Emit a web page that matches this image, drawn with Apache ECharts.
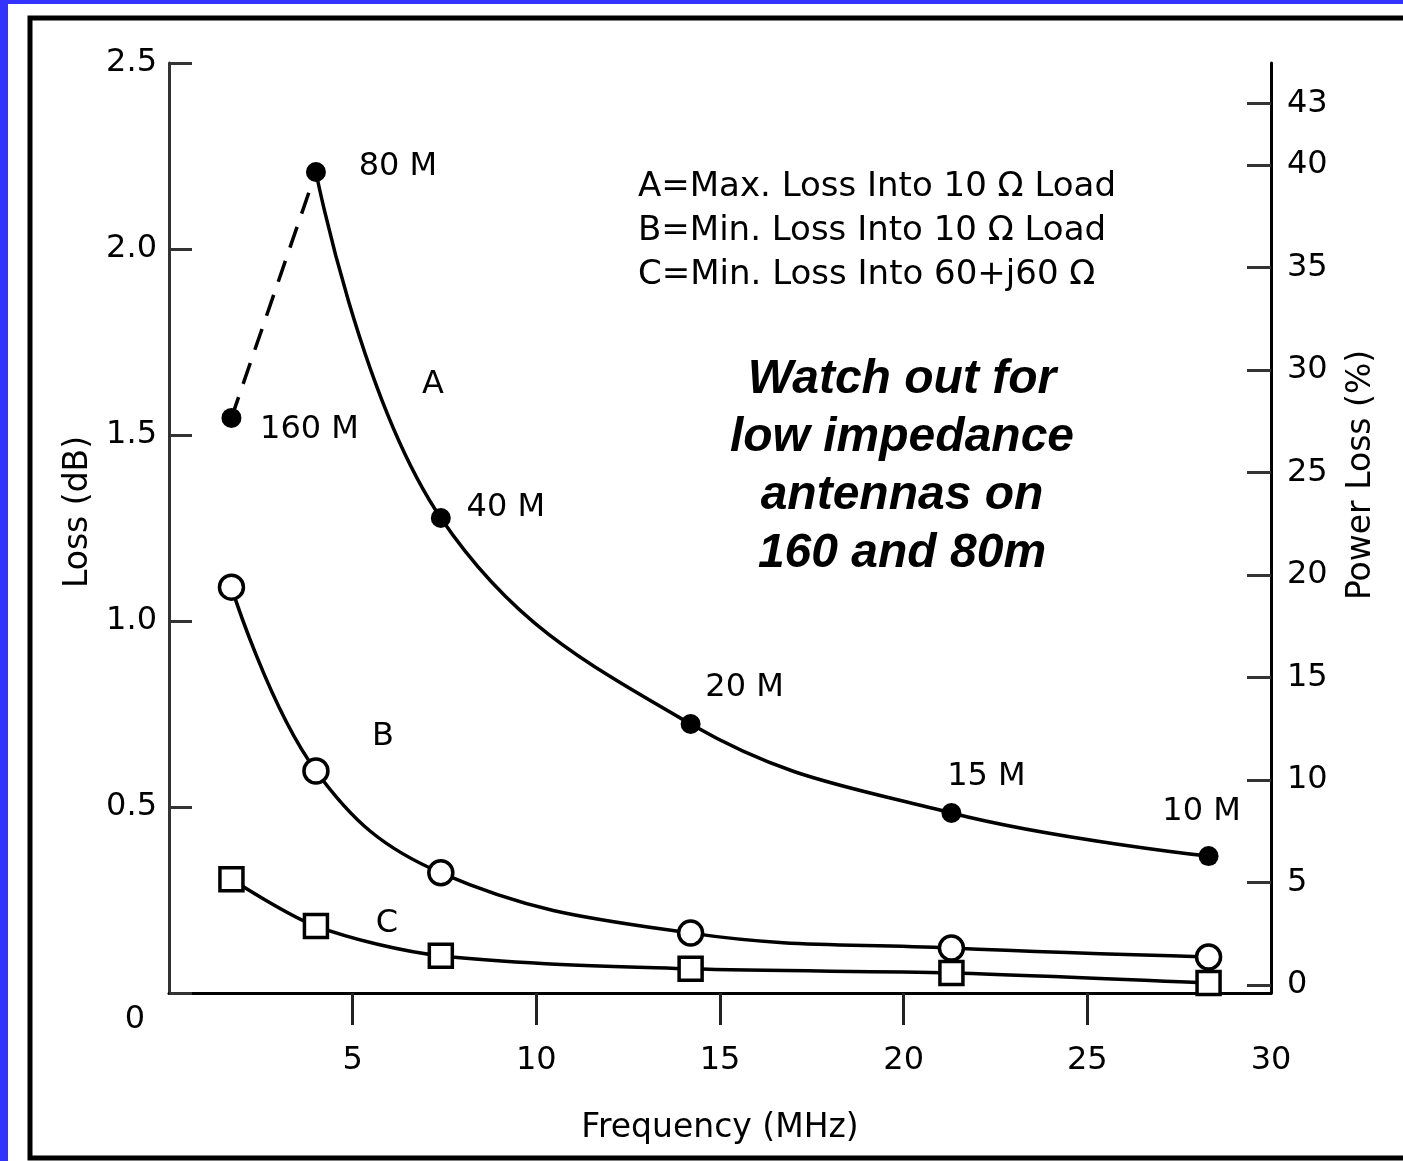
<!DOCTYPE html>
<html><head><meta charset="utf-8">
<script src="https://cdn.jsdelivr.net/npm/echarts@6/dist/echarts.min.js"></script>
<style>html,body{margin:0;padding:0;background:#3333ff;} #c{width:1403px;height:1161px;}</style>
</head><body><div id="c"></div>
<script>
// ---- data ----
const freqMHz = [1.7, 4.0, 7.4, 14.2, 21.3, 28.3];
const bandLabels = ['160 M', '80 M', '40 M', '20 M', '15 M', '10 M'];
const lossA = [1.546, 2.207, 1.277, 0.723, 0.484, 0.368]; // Max. loss into 10 ohm load (dB)
const lossB = [1.091, 0.597, 0.323, 0.161, 0.121, 0.097]; // Min. loss into 10 ohm load (dB)
const lossC = [0.306, 0.180, 0.100, 0.065, 0.054, 0.027]; // Min. loss into 60+j60 ohm (dB)
const lossTicks = [0, 0.5, 1.0, 1.5, 2.0, 2.5];
const powerLossTicks = [0, 5, 10, 15, 20, 25, 30, 35, 40, 43];
const freqTicks = [5, 10, 15, 20, 25];
const freqLabels = [5, 10, 15, 20, 25, 30];
const curveNames = ['A', 'B', 'C'];
const legendLines = ['A=Max. Loss Into 10 \u03A9 Load', 'B=Min. Loss Into 10 \u03A9 Load', 'C=Min. Loss Into 60+j60 \u03A9'];
const noteLines = ['Watch out for', 'low impedance', 'antennas on', '160 and 80m'];

// ---- styling (kept apart from data) ----
const FONT = 'DejaVu Sans';
const bandLabelOffsets = [[78, 12], [82, -5], [65, -10], [54, -36], [35, -36], [-7, -44]];

const pts = (ys) => freqMHz.map((x, i) => [x, ys[i]]);
const ptsA = pts(lossA);

const chart = echarts.init(document.getElementById('c'), null, {renderer: 'canvas'});

const txt = {color: '#000', fontFamily: FONT, fontSize: 32};

chart.setOption({
  backgroundColor: '#3333ff',
  animation: false,
  grid: {left: 169, right: 132, top: 63, bottom: 168, containLabel: false},
  xAxis: {
    type: 'value', min: 0, max: 30,
    name: 'Frequency (MHz)', nameLocation: 'middle', nameGap: 119,
    nameTextStyle: {color: '#000', fontFamily: FONT, fontSize: 33},
    axisLine: {show: true, onZero: false, lineStyle: {color: '#000', width: 3}},
    axisTick: {show: true, inside: false, length: 32, lineStyle: {color: '#222', width: 3}, customValues: freqTicks},
    axisLabel: Object.assign({margin: 52, customValues: freqLabels}, txt),
    splitLine: {show: false}
  },
  yAxis: [{
    type: 'value', min: 0, max: 2.5, position: 'left',
    name: 'Loss (dB)', nameLocation: 'middle', nameGap: 66, nameRotate: 90,
    nameTextStyle: {color: '#000', fontFamily: FONT, fontSize: 33, padding: [0, 0, 0, 32]},
    axisLine: {show: true, lineStyle: {color: '#333', width: 3}},
    axisTick: {show: true, inside: true, length: 23, lineStyle: {color: '#333', width: 3}, customValues: lossTicks},
    axisLabel: Object.assign({margin: 12, customValues: lossTicks, formatter: v => v === 0 ? '' : v.toFixed(1)}, txt),
    splitLine: {show: false}
  }, {
    type: 'value', min: -0.39, max: 44.98, position: 'right',
    name: 'Power Loss (%)', nameLocation: 'middle', nameGap: 74, nameRotate: 90,
    nameTextStyle: {color: '#000', fontFamily: FONT, fontSize: 33, padding: [0, 0, 0, 106]},
    axisLine: {show: true, lineStyle: {color: '#000', width: 3}},
    axisTick: {show: true, inside: true, length: 24, lineStyle: {color: '#333', width: 3}, customValues: powerLossTicks},
    axisLabel: Object.assign({margin: 16, customValues: powerLossTicks}, txt),
    splitLine: {show: false}
  }],
  series: [
    { // A, dashed part 160 M -> 80 M
      name: 'A (160-80 M)', type: 'line', data: ptsA.slice(0, 2), showSymbol: false, z: 3,
      lineStyle: {color: '#000', width: 3.5, type: [22, 14]}
    },
    { // A, solid smooth part from 80 M on
      name: 'A', type: 'line', data: ptsA.slice(1), showSymbol: false, smooth: 0.4, z: 3,
      lineStyle: {color: '#000', width: 3.5}
    },
    { // A points with band labels
      name: 'A points', type: 'scatter', z: 5,
      data: ptsA.map((p, i) => ({
        value: p,
        label: {offset: bandLabelOffsets[i]}
      })),
      symbol: 'circle', symbolSize: 20, itemStyle: {color: '#000', opacity: 1},
      label: Object.assign({show: true, position: 'inside', align: 'center', verticalAlign: 'middle', opacity: 1,
        formatter: p => bandLabels[p.dataIndex]}, txt)
    },
    {
      name: 'B', type: 'line', data: pts(lossB), smooth: 0.4, z: 4,
      symbol: 'circle', symbolSize: 24, showSymbol: true,
      itemStyle: {color: '#fff', borderColor: '#000', borderWidth: 3.5},
      lineStyle: {color: '#000', width: 3.5}
    },
    {
      name: 'C', type: 'line', data: pts(lossC), smooth: 0.3, z: 4,
      symbol: 'rect', symbolSize: 23, showSymbol: true,
      itemStyle: {color: '#fff', borderColor: '#000', borderWidth: 3.5},
      lineStyle: {color: '#000', width: 3.5}
    }
  ],
  graphic: [
    {type: 'rect', z: -100, silent: true, shape: {x: 8, y: 4, width: 1400, height: 1160}, style: {fill: '#fff'}},
    {type: 'rect', z: -99, silent: true, shape: {x: 30, y: 18, width: 1420, height: 1140}, style: {fill: null, stroke: '#000', lineWidth: 5}},
    {type: 'text', x: 135, y: 1020, style: {text: '0', align: 'center', verticalAlign: 'middle', fill: '#000', font: '32px "' + FONT + '"'}},
    {type: 'text', x: 433, y: 385, style: {text: curveNames[0], align: 'center', verticalAlign: 'middle', fill: '#000', font: '32px "' + FONT + '"'}},
    {type: 'text', x: 383, y: 737, style: {text: curveNames[1], align: 'center', verticalAlign: 'middle', fill: '#000', font: '32px "' + FONT + '"'}},
    {type: 'text', x: 387, y: 924, style: {text: curveNames[2], align: 'center', verticalAlign: 'middle', fill: '#000', font: '32px "' + FONT + '"'}},
    {type: 'text', x: 638, y: 165, style: {text: legendLines.join('\n'), align: 'left', verticalAlign: 'top', lineHeight: 44, fill: '#000', font: '34px "' + FONT + '"'}},
    {type: 'text', x: 902, y: 351, style: {text: noteLines.join('\n'), align: 'center', verticalAlign: 'top', lineHeight: 58, fill: '#000', font: 'italic bold 48px "Liberation Sans", Arial, sans-serif'}}
  ]
});
</script></body></html>
